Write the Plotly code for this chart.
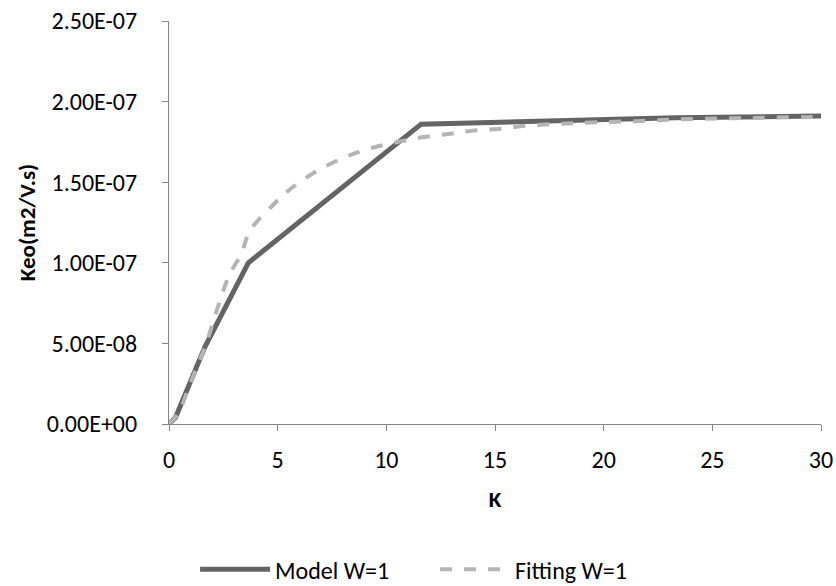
import plotly.graph_objects as go

# Model curve (K vs Keo)
model_k = [0.0, 0.3, 1.66, 3.65, 11.6, 23.3, 30.0]
model_keo = [0.0, 4.0e-9, 4.8e-8, 1.0e-7, 1.86e-7, 1.90e-7, 1.91e-7]

# Fitted curve
fit_k = [0.0, 0.4, 1.0, 1.66, 2.73, 3.34, 3.73, 4.8, 5.7, 6.95, 8.18, 9.25,
         10.55, 11.7, 12.93, 13.96, 15.18, 16.4, 17.63, 18.68, 20.26, 21.8,
         23.4, 25.35, 27.27, 30.0]
fit_keo = [0.0, 6.0e-9, 2.6e-8, 4.8e-8, 9.1e-8, 1.06e-7, 1.2e-7, 1.36e-7,
           1.47e-7, 1.58e-7, 1.66e-7, 1.71e-7, 1.75e-7, 1.78e-7, 1.80e-7,
           1.82e-7, 1.83e-7, 1.85e-7, 1.86e-7, 1.866e-7, 1.874e-7, 1.88e-7,
           1.89e-7, 1.895e-7, 1.90e-7, 1.905e-7]

y_ticks = [0.0, 5e-8, 1e-7, 1.5e-7, 2e-7, 2.5e-7]
y_tick_text = ["0.00E+00", "5.00E-08", "1.00E-07", "1.50E-07", "2.00E-07", "2.50E-07"]
x_ticks = [0, 5, 10, 15, 20, 25, 30]

FONT = "Calibri, Carlito, Lato, sans-serif"

fig = go.Figure()
fig.add_trace(go.Scatter(
    x=model_k, y=model_keo, mode="lines", name="Model W=1",
    line=dict(color="#646464", width=5),
))
fig.add_trace(go.Scatter(
    x=fit_k, y=fit_keo, mode="lines", name="Fitting W=1",
    line=dict(color="#b4b4b4", width=4, dash="dash", shape="spline"),
))

axis_common = dict(
    showgrid=False, zeroline=False, showline=True, linecolor="#868686",
    linewidth=1, ticks="outside", ticklen=6, tickcolor="#868686",
    automargin=False,
)

fig.update_xaxes(
    range=[0, 30], tickvals=x_ticks, ticktext=[str(v) for v in x_ticks],
    tickfont=dict(family=FONT, size=24, color="#000000"),
    ticklabelstandoff=8,
    title=dict(text="<b>K</b>", font=dict(family=FONT, size=23, color="#000000"),
               standoff=18),
    **axis_common,
)
fig.update_yaxes(
    range=[0, 2.5e-7], tickvals=y_ticks, ticktext=y_tick_text,
    tickfont=dict(family=FONT, size=24, color="#000000"),
    ticklabelstandoff=20,
    title=dict(text="<b>Keo(m2/V.s)</b>", font=dict(family=FONT, size=23, color="#000000"),
               standoff=4),
    **axis_common,
)

fig.update_layout(
    width=836, height=586,
    margin=dict(l=169, r=15, t=21, b=162, autoexpand=False),
    paper_bgcolor="white", plot_bgcolor="white",
    showlegend=True,
    legend=dict(
        orientation="h", x=0.04, xanchor="left",
        yref="container", y=0.028, yanchor="middle",
        font=dict(family=FONT, size=24, color="#000000"),
        itemwidth=70, entrywidth=155, tracegroupgap=0,
    ),
)

fig.write_html("out.html")
